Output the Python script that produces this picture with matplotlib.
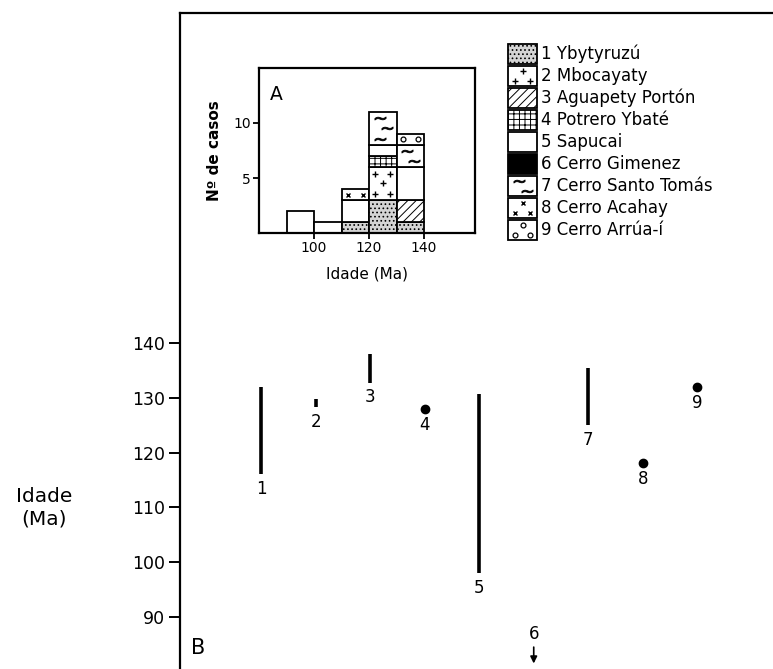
import numpy as np
import matplotlib
matplotlib.use('Agg')
import matplotlib.pyplot as plt
from matplotlib.patches import Rectangle

# Unità vulcaniche (numerate 1-9)
units = ['Ybytyruzú', 'Mbocayaty', 'Aguapety Portón', 'Potrero Ybaté', 'Sapucai',
         'Cerro Gimenez', 'Cerro Santo Tomás', 'Cerro Acahay', 'Cerro Arrúa-í']

# Grafico B: intervallo di età (Ma) per ogni unità
age_min = [116, 128.3, 132.7, 128, 98, 81, 125, 118, 132]
age_max = [132, 129.7, 138, 128, 130.7, 85, 135.5, 118, 132]
kind = ['range', 'range', 'range', 'point', 'range', 'arrow', 'range', 'point', 'point']

# Grafico A: istogramma (classi di 10 Ma), numero di casi per unità
bin_left = [90, 100, 110, 120, 130]
n_ybytyruzu = [0, 0, 1, 3, 1]
n_mbocayaty = [0, 0, 0, 3, 0]
n_aguapety = [0, 0, 0, 0, 2]
n_potrero = [0, 0, 0, 1, 0]
n_sapucai = [2, 1, 2, 1, 3]
n_gimenez = [0, 0, 0, 0, 0]
n_santotomas = [0, 0, 0, 3, 2]
n_acahay = [0, 0, 1, 0, 0]
n_arrua = [0, 0, 0, 0, 1]
counts = [n_ybytyruzu, n_mbocayaty, n_aguapety, n_potrero, n_sapucai,
          n_gimenez, n_santotomas, n_acahay, n_arrua]

styles = ['stipple', 'plus', 'diag', 'grid', 'blank', 'black', 'tilde', 'x', 'o']
hatch_of = {'stipple': '....', 'diag': '////', 'grid': '+++'}
face_of = {'stipple': '#d4d4d4', 'black': 'k'}
marker_of = {'plus': ('+', 5, 1.0), 'tilde': (r'$\sim$', 8, 0.6),
             'x': ('x', 3.5, 1.0), 'o': ('o', 3.5, 0.9)}

plt.rcParams['font.family'] = 'DejaVu Sans'
plt.rcParams['hatch.linewidth'] = 0.7

W, H = 773, 669
fig = plt.figure(figsize=(W / 100, H / 100), dpi=100)


def fig_rect(x0, y0, x1, y1):
    # da pixel (origine in alto a sinistra) a frazioni di figura
    return [x0 / W, 1 - y1 / H, (x1 - x0) / W, (y1 - y0) / H]


def pattern_points(ax, x0, y0, w, h, style, dx=15, dy=10):
    (ax0, ay0), (ax1, ay1) = ax.transData.transform([(x0, y0), (x0 + w, y0 + h)])
    lx, hx = sorted([ax0, ax1])
    ly, hy = sorted([ay0, ay1])
    pw, ph = hx - lx, hy - ly
    nrow = max(1, int(ph // dy))
    rows = hy - (ph - (nrow - 1) * dy) / 2 - np.arange(nrow) * dy  # dall'alto
    pts = []
    for k, yy in enumerate(rows):
        if style == 'tilde':
            pts.append((lx + pw * (0.38 if k % 2 == 0 else 0.64), yy))
            continue
        ncol = max(1, int((pw - 8) // dx) + 1)
        even = (nrow - 1 - k) % 2 == 0  # riga di fondo con due simboli
        if not even:
            ncol = max(1, ncol - 1)
        xs = lx + (pw - (ncol - 1) * dx) / 2 + np.arange(ncol) * dx
        pts += [(xx, yy) for xx in xs]
    pts = ax.transData.inverted().transform(np.array(pts))
    return pts[:, 0], pts[:, 1]


def draw_box(ax, x0, y0, w, h, style, lw=1.3):
    rect = Rectangle((x0, y0), w, h, facecolor=face_of.get(style, 'white'), edgecolor='k',
                     lw=lw, hatch=hatch_of.get(style), zorder=2)
    ax.add_patch(rect)
    if style in marker_of:
        m, ms, mew = marker_of[style]
        xs, ys = pattern_points(ax, x0, y0, w, h, style)
        pts, = ax.plot(xs, ys, ls='none', marker=m, ms=ms, mew=mew, color='k',
                       mfc='none' if m == 'o' else 'k', zorder=3)
        pts.set_clip_path(rect)


# ---------------- Grafico B ----------------
axB = fig.add_axes(fig_rect(180, 13, W, H))
axB.set_xlim(-0.49, 10.39)
axB.set_ylim(80.5, 200.2)
for s in ['right', 'bottom']:
    axB.spines[s].set_visible(False)
for s in ['left', 'top']:
    axB.spines[s].set_linewidth(1.6)
axB.set_xticks([])
axB.set_yticks([90, 100, 110, 120, 130, 140])
axB.tick_params(axis='y', direction='out', length=8, width=1.4, pad=3, labelsize=12.5)

xpos = np.arange(1, len(units) + 1)
for i, x in enumerate(xpos):
    if kind[i] == 'range':
        axB.plot([x, x], [age_min[i], age_max[i]], color='k', lw=2.6, solid_capstyle='butt')
        axB.annotate(str(i + 1), (x, age_min[i]), xytext=(0, -4), textcoords='offset points',
                     ha='center', va='top', fontsize=12)
    elif kind[i] == 'point':
        axB.plot(x, age_min[i], 'o', color='k', ms=6)
        axB.annotate(str(i + 1), (x, age_min[i]), xytext=(0, -5), textcoords='offset points',
                     ha='center', va='top', fontsize=12)
    else:
        axB.annotate('', xy=(x, age_min[i]), xytext=(x, age_max[i]),
                     arrowprops=dict(arrowstyle='-|>', color='k', lw=1.2, mutation_scale=10))
        axB.annotate(str(i + 1), (x, age_max[i]), xytext=(0, 1), textcoords='offset points',
                     ha='center', va='bottom', fontsize=12)

axB.text(0.018, 0.032, 'B', transform=axB.transAxes, fontsize=15, ha='left', va='center')
fig.text(44 / W, 1 - 508 / H, 'Idade\n(Ma)', fontsize=14.5, ha='center', va='center',
         multialignment='center', linespacing=1.25)

# ---------------- Grafico A (istogramma) ----------------
axA = fig.add_axes(fig_rect(259, 68, 475, 233), zorder=3)
axA.set_xlim(80, 158.5)
axA.set_ylim(0, 15)
for s in axA.spines.values():
    s.set_linewidth(1.6)
axA.set_xticks([100, 120, 140])
axA.set_yticks([5, 10])
axA.tick_params(direction='out', length=4, width=1.3, labelsize=10, pad=2)

for b, left in enumerate(bin_left):
    bottom = 0
    for u in range(len(units)):
        c = counts[u][b]
        if c > 0:
            draw_box(axA, left, bottom, 10, c, styles[u])
            bottom += c

axA.text(0.05, 0.84, 'A', transform=axA.transAxes, fontsize=13.5, ha='left', va='center')
axA.set_xlabel('Idade (Ma)', fontsize=11)
axA.xaxis.set_label_coords(0.5, -0.2)
axA.set_ylabel('Nº de casos', fontsize=11, fontweight='bold')
axA.yaxis.set_label_coords(-0.17, 0.5)

# ---------------- Legenda ----------------
axL = fig.add_axes(fig_rect(500, 30, W, 245), zorder=3)
axL.set_xlim(500, W)
axL.set_ylim(245, 30)
axL.axis('off')
for i, name in enumerate(units):
    yc = 54 + 22 * i
    draw_box(axL, 508, yc - 10, 29, 20, styles[i], lw=1.3)
    axL.text(541, yc, f'{i + 1} {name}', fontsize=12, ha='left', va='center')

fig.savefig('out.png', dpi=100, facecolor='white')
